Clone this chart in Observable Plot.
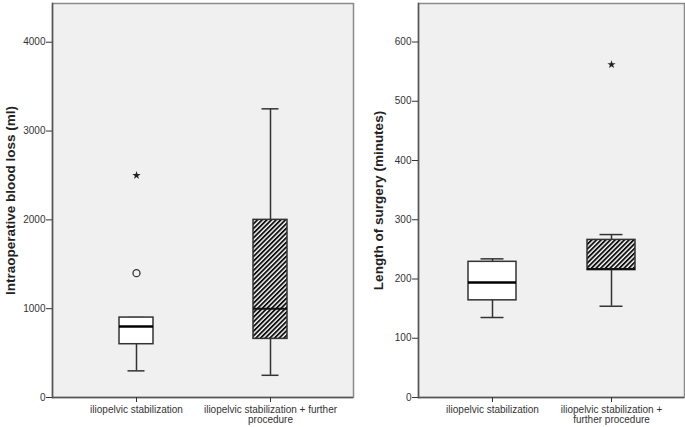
<!DOCTYPE html>
<html><head><meta charset="utf-8">
<script src="https://cdn.jsdelivr.net/npm/d3@7"></script>
<script src="https://cdn.jsdelivr.net/npm/@observablehq/plot@0.6"></script>
<style>
body{margin:0;background:#fff}
#wrap{position:relative;width:685px;height:427px;overflow:hidden}
#wrap svg{position:absolute;top:0}
</style>
</head><body><div id="wrap"></div>
<script>
const categories = ["iliopelvic stabilization", "iliopelvic stabilization + further procedure"];
const leftLabels = ["iliopelvic stabilization", "iliopelvic stabilization + further\nprocedure"];
const rightLabels = ["iliopelvic stabilization", "iliopelvic stabilization +\nfurther procedure"];

// Intraoperative blood loss (ml)
const bloodLow = [300, 250];
const bloodQ1 = [600, 660];
const bloodMedian = [800, 1000];
const bloodQ3 = [900, 2000];
const bloodHigh = [900, 3250];
const bloodOutliers = [{group: categories[0], value: 1400}];
const bloodExtremes = [{group: categories[0], value: 2500}];
const bloodTicks = [0, 1000, 2000, 3000, 4000];

// Length of surgery (minutes)
const surgLow = [135, 154];
const surgQ1 = [164, 215];
const surgMedian = [194, 217];
const surgQ3 = [229, 266];
const surgHigh = [234, 275];
const surgOutliers = [];
const surgExtremes = [{group: categories[1], value: 562}];
const surgTicks = [0, 100, 200, 300, 400, 500, 600];

function hatchDefs(id) {
  return () => {
    const defs = d3.create("svg:defs");
    const p = defs.append("pattern").attr("id", id)
      .attr("patternUnits", "userSpaceOnUse")
      .attr("width", 3.3).attr("height", 3.3)
      .attr("patternTransform", "rotate(45)");
    p.append("rect").attr("width", 3.3).attr("height", 3.3).attr("fill", "#fff");
    p.append("rect").attr("width", 1.9).attr("height", 3.3).attr("fill", "#111");
    return defs.node();
  };
}

function panel(o) {
  const rows = categories.map((c, i) => ({
    c, low: o.low[i], q1: o.q1[i], median: o.median[i], q3: o.q3[i], high: o.high[i], hatched: i === 1
  }));
  const ink = "#333";
  return Plot.plot({
    width: o.width, height: 427,
    marginLeft: o.marginLeft, marginRight: o.marginRight, marginTop: 3, marginBottom: 30,
    style: {fontFamily: "'Liberation Sans', Arial, sans-serif", fontSize: "10px", color: "#333", background: "transparent", overflow: "visible"},
    x: {domain: categories, paddingInner: o.paddingInner, paddingOuter: o.paddingOuter, label: null, axis: null},
    y: {domain: [0, o.yMax], label: null, axis: null},
    marks: [
      hatchDefs(o.hatchId),
      Plot.frame({fill: "#f0f0f0", stroke: "#8a8a8a", strokeWidth: 1.5}),
      Plot.ruleX(rows, {x: "c", y1: "low", y2: "q1", stroke: ink, strokeWidth: 1.5}),
      Plot.ruleX(rows, {x: "c", y1: "q3", y2: "high", stroke: ink, strokeWidth: 1.5}),
      Plot.tickY(rows, {x: "c", y: "low", insetLeft: o.capInset, insetRight: o.capInset, stroke: ink, strokeWidth: 1.5}),
      Plot.tickY(rows, {x: "c", y: "high", insetLeft: o.capInset, insetRight: o.capInset, stroke: ink, strokeWidth: 1.5}),
      Plot.barY(rows.filter(d => !d.hatched), {x: "c", y1: "q1", y2: "q3", fill: "#fff", stroke: ink, strokeWidth: 1.5}),
      Plot.barY(rows.filter(d => d.hatched), {x: "c", y1: "q1", y2: "q3", fill: `url(#${o.hatchId})`, stroke: ink, strokeWidth: 1.5}),
      Plot.tickY(rows.filter(d => !d.hatched), {x: "c", y: "median", stroke: "#000", strokeWidth: 2.5}),
      Plot.tickY(rows.filter(d => d.hatched), {x: "c", y: "median", stroke: "#111", strokeWidth: 2}),
      Plot.dot(o.outliers, {x: "group", y: "value", r: 3.5, stroke: ink, strokeWidth: 1.3, fill: "none"}),
      Plot.dot(o.extremes, {x: "group", y: "value", symbol: "star", r: 2.6, fill: "#222"}),
      Plot.ruleY([0], {stroke: "#555", strokeWidth: 1.5}),
      Plot.frame({anchor: "left", stroke: "#555", strokeWidth: 1.5}),
      Plot.axisY({ticks: o.yTicks, tickSize: 6, tickPadding: 1, label: null, tickFormat: d3.format("d")}),
      Plot.axisX({tickSize: 5, tickPadding: 3, label: null, tickFormat: c => o.labels[categories.indexOf(c)]}),
      Plot.text([o.title], {text: d => d, frameAnchor: "left", dx: o.titleDx, rotate: -90, textAnchor: "middle", fontWeight: "bold", fontSize: 13.5, fill: "#222"})
    ]
  });
}

const left = panel({
  low: bloodLow, q1: bloodQ1, median: bloodMedian, q3: bloodQ3, high: bloodHigh,
  outliers: bloodOutliers, extremes: bloodExtremes, yTicks: bloodTicks, yMax: 4436,
  title: "Intraoperative blood loss (ml)", labels: leftLabels,
  width: 355, marginLeft: 52, marginRight: 2, paddingInner: 0.748, paddingOuter: 0.489,
  capInset: 8.5, hatchId: "hatchL", titleDx: -42
});
left.style.left = "0px";

const right = panel({
  low: surgLow, q1: surgQ1, median: surgMedian, q3: surgQ3, high: surgHigh,
  outliers: surgOutliers, extremes: surgExtremes, yTicks: surgTicks, yMax: 665,
  title: "Length of surgery (minutes)", labels: rightLabels,
  width: 340, marginLeft: 73, marginRight: 1, paddingInner: 0.598, paddingOuter: 0.414,
  capInset: 12.5, hatchId: "hatchR", titleDx: -40
});
right.style.left = "345px";

const wrap = document.getElementById("wrap");
wrap.appendChild(left);
wrap.appendChild(right);
</script>
</body></html>
